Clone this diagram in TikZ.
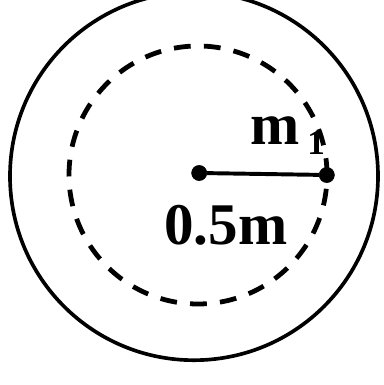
\documentclass[tikz,border=0pt]{standalone}
\usepackage{fontspec}
\setmainfont{Liberation Serif}
\usetikzlibrary{positioning}

\begin{document}
\begin{tikzpicture}[
   dot/.style={draw,fill,circle,minimum size=3.8mm,inner sep=0pt},
   lbl/.style={font=\fontsize{42}{42}\selectfont\bfseries,inner sep=0pt,anchor=base west}]
 % frame with the reference margins
 \useasboundingbox (-4.95,-5.25) rectangle (4.625,4.375);
 % outer disc and the dashed orbit
 \draw[line width=2.6pt] (-0.1,-0.03) circle (4.6);
 \draw[line width=3.4pt,dash pattern=on 0.42cm off 0.33cm] (0,0) circle (3.225);
 % centre and the mass m1
 \node[dot] (o)  at (0.03,0.05) {};
 \node[dot] (m1) at (3.22,0) {};
 \draw[line width=2.8pt] (o) -- (m1);
 % labels
 \node[lbl] (mlab) at (1.3,0.75) {m\hspace{0.2cm}\raisebox{-0.25cm}{\fontsize{25}{25}\selectfont 1}};
 \node[lbl] (rlab) at (-0.85,-1.75) {0.5m};
\end{tikzpicture}
\end{document}
